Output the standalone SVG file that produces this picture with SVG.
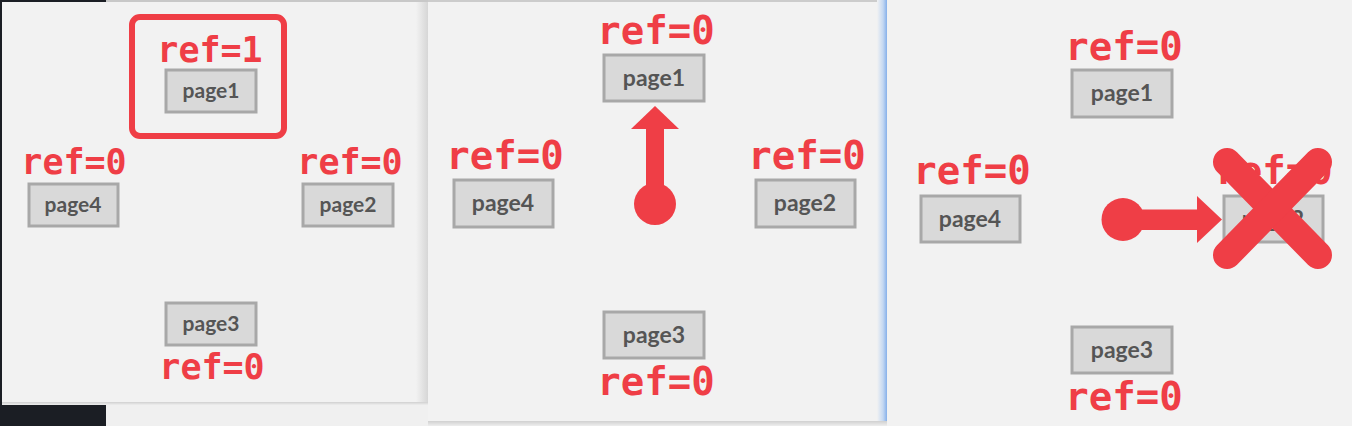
<svg xmlns="http://www.w3.org/2000/svg" width="1352" height="426" viewBox="0 0 1352 426">
  <defs>
    <linearGradient id="shR1" x1="0" y1="0" x2="1" y2="0">
      <stop offset="0" stop-color="#f2f2f2"/>
      <stop offset="1" stop-color="#d6d6d6"/>
    </linearGradient>
    <linearGradient id="shB" x1="0" y1="0" x2="0" y2="1">
      <stop offset="0" stop-color="#d0d0d0"/>
      <stop offset="1" stop-color="#eeeeee"/>
    </linearGradient>
    <linearGradient id="blueEdge" x1="0" y1="0" x2="1" y2="0">
      <stop offset="0" stop-color="#f2f2f2"/>
      <stop offset="0.6" stop-color="#c4d8f2"/>
      <stop offset="1" stop-color="#86b0ea"/>
    </linearGradient>
    <style>
      .panel { fill: #f2f2f2; }
      .ref { font-family: "DejaVu Sans Mono", "Liberation Mono", monospace; font-weight: bold; fill: #ef3e46; text-anchor: middle; }
      .r1 { font-size: 35px; }
      .r2 { font-size: 39px; }
      .box { fill: #d9d9d9; stroke: #a8a8a8; stroke-width: 3; }
      .pt { font-family: Lato, "Open Sans", sans-serif; font-weight: bold; fill: #555555; text-anchor: middle; }
      .p1 { font-size: 21px; }
      .p2 { font-size: 23px; }
      .red { fill: #ef3e46; }
    </style>
  </defs>

  <!-- backdrop -->
  <rect x="0" y="0" width="1352" height="426" fill="#efefef"/>
  <rect x="0" y="0" width="106" height="426" fill="#1b1e24"/>
  <rect x="106" y="0" width="322" height="2" fill="#c8c8c8"/>

  <!-- panel 1 -->
  <g id="panel1">
    <rect class="panel" x="2" y="2" width="426" height="400"/>
    <rect x="416" y="2" width="12" height="400" fill="url(#shR1)"/>
    <rect x="2" y="402" width="426" height="3" fill="url(#shB)"/>
    <rect x="106" y="405" width="322" height="21" fill="#f0f0f0"/>
  </g>

  <!-- panel 2 -->
  <g id="panel2">
    <rect class="panel" x="428" y="0" width="459" height="421"/>
    <rect x="428" y="0" width="459" height="2" fill="#cccccc"/>
    <rect x="877" y="0" width="10" height="421" fill="url(#blueEdge)"/>
    <rect x="428" y="421" width="459" height="5" fill="url(#shB)"/>
  </g>

  <!-- panel 3 -->
  <g id="panel3">
    <rect class="panel" x="887" y="0" width="465" height="426"/>
  </g>

  <!-- panel 1 nodes -->
  <g id="p1-highlight">
    <rect x="132" y="17" width="152" height="119" rx="8" fill="none" stroke="#ef3e46" stroke-width="6"/>
  </g>
  <g id="p1-page1">
    <text class="ref r1" x="210" y="62">ref=1</text>
    <rect class="box" x="166" y="70" width="90" height="42"/>
    <text class="pt p1" x="211" y="98">page1</text>
  </g>
  <g id="p1-page4">
    <text class="ref r1" x="74" y="174">ref=0</text>
    <rect class="box" x="29" y="184" width="89" height="42"/>
    <text class="pt p1" x="73" y="212">page4</text>
  </g>
  <g id="p1-page2">
    <text class="ref r1" x="350" y="174">ref=0</text>
    <rect class="box" x="303" y="184" width="90" height="42"/>
    <text class="pt p1" x="348" y="212">page2</text>
  </g>
  <g id="p1-page3">
    <rect class="box" x="166" y="303" width="90" height="42"/>
    <text class="pt p1" x="211" y="331">page3</text>
    <text class="ref r1" x="212" y="379">ref=0</text>
  </g>

  <!-- panel 2 nodes -->
  <g id="p2-page1">
    <text class="ref r2" x="656" y="44">ref=0</text>
    <rect class="box" x="604" y="55" width="100" height="46"/>
    <text class="pt p2" x="654" y="86">page1</text>
  </g>
  <g id="p2-page4">
    <text class="ref r2" x="505" y="169">ref=0</text>
    <rect class="box" x="454" y="180" width="99" height="47"/>
    <text class="pt p2" x="503" y="211">page4</text>
  </g>
  <g id="p2-page2">
    <text class="ref r2" x="807" y="169">ref=0</text>
    <rect class="box" x="756" y="180" width="99" height="47"/>
    <text class="pt p2" x="805" y="211">page2</text>
  </g>
  <g id="p2-page3">
    <rect class="box" x="604" y="312" width="100" height="46"/>
    <text class="pt p2" x="654" y="343">page3</text>
    <text class="ref r2" x="656" y="395">ref=0</text>
  </g>

  <!-- panel 3 nodes -->
  <g id="p3-page1">
    <text class="ref r2" x="1124" y="60">ref=0</text>
    <rect class="box" x="1072" y="70" width="100" height="47"/>
    <text class="pt p2" x="1122" y="101">page1</text>
  </g>
  <g id="p3-page4">
    <text class="ref r2" x="972" y="184">ref=0</text>
    <rect class="box" x="921" y="196" width="99" height="46"/>
    <text class="pt p2" x="970" y="227">page4</text>
  </g>
  <g id="p3-page2">
    <text class="ref r2" x="1274" y="184">ref=0</text>
    <rect class="box" x="1224" y="196" width="99" height="46"/>
    <text class="pt p2" x="1273" y="227">page2</text>
  </g>
  <g id="p3-page3">
    <rect class="box" x="1072" y="327" width="100" height="46"/>
    <text class="pt p2" x="1122" y="358">page3</text>
    <text class="ref r2" x="1124" y="410">ref=0</text>
  </g>

  <!-- connectors (clock hand pointers) -->
  <g id="connectors">
    <g id="p2-hand">
      <circle class="red" cx="655" cy="204" r="21"/>
      <rect class="red" x="646" y="128" width="18" height="78"/>
      <polygon class="red" points="631,129 655,106 679,129"/>
    </g>
    <g id="p3-hand">
      <circle class="red" cx="1123" cy="219.5" r="21.5"/>
      <rect class="red" x="1122" y="209.5" width="77" height="20.5"/>
      <polygon class="red" points="1197,196 1222,219.5 1197,243"/>
    </g>
  </g>

  <!-- eviction mark -->
  <g id="p3-evict" stroke="#ef3e46" stroke-width="28" stroke-linecap="round">
    <line x1="1227" y1="162" x2="1318" y2="255"/>
    <line x1="1318" y1="162" x2="1227" y2="255"/>
  </g>
</svg>
